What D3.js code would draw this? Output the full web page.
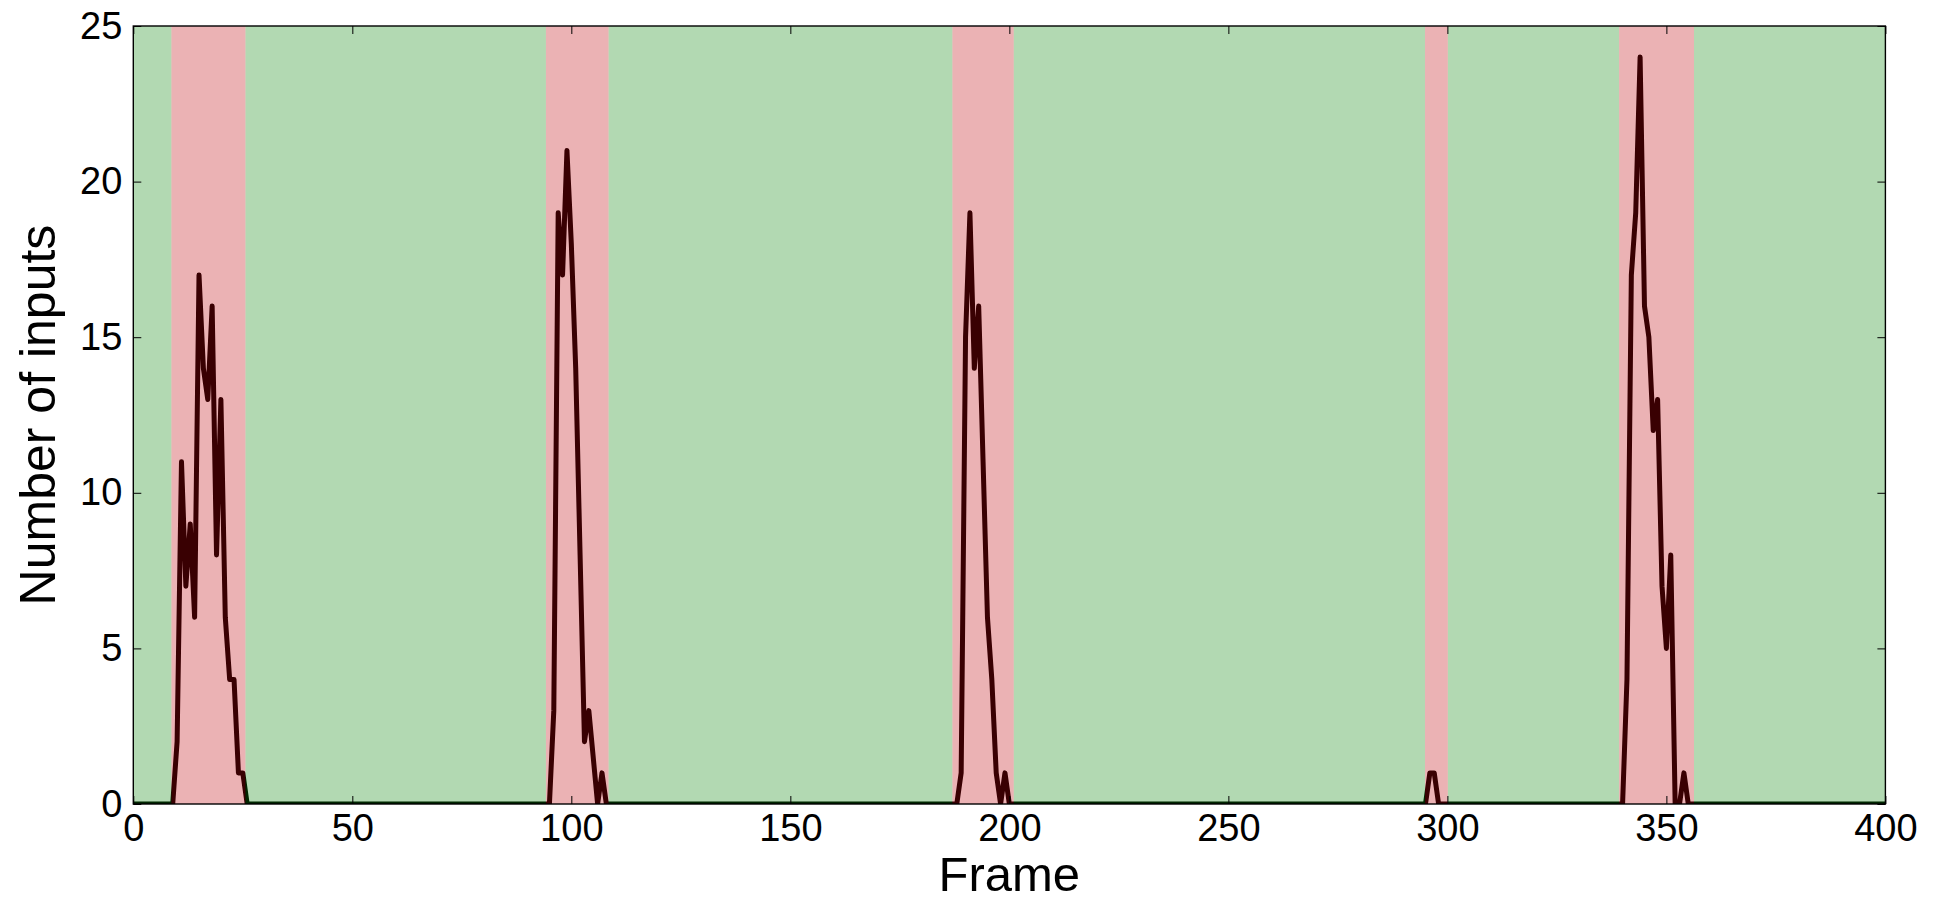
<!DOCTYPE html>
<html>
<head>
<meta charset="utf-8">
<script src="https://cdnjs.cloudflare.com/ajax/libs/d3/7.8.5/d3.min.js"></script>
<style>
  html, body { margin: 0; padding: 0; background: #ffffff; overflow: hidden; }
  svg { display: block; }
  text { font-family: "Liberation Sans", Arial, Helvetica, sans-serif; fill: #000; }
</style>
</head>
<body>
<svg id="chart" width="1936" height="905"></svg>
<script>
// Number of inputs per frame (only frames where the trace changes direction)
const frames = [
  0,
  9, 10, 11, 12, 13, 14, 15, 16, 17, 18, 19, 20, 21, 22, 23, 24, 25, 26,
  95, 96, 97, 98, 99, 100, 101, 102, 103, 104, 106, 107, 108,
  188, 189, 190, 191, 192, 193, 194, 195, 196, 197, 198, 199, 200,
  295, 296, 297, 298,
  340, 341, 342, 343, 344, 345, 346, 347, 348, 349, 350, 351, 352, 353, 354, 355,
  400
];
const inputs = [
  0,
  0, 2, 11, 7, 9, 6, 17, 14, 13, 16, 8, 13, 6, 4, 4, 1, 1, 0,
  0, 3, 19, 17, 21, 18, 14, 8, 2, 3, 0, 1, 0,
  0, 1, 15, 19, 14, 16, 11, 6, 4, 1, 0, 1, 0,
  0, 1, 1, 0,
  0, 4, 17, 19, 24, 16, 15, 12, 13, 7, 5, 8, 0, 0, 1, 0,
  0
];

// Frame ranges flagged as active (red); the remaining frames are idle (green)
const activeStart = [8.7, 94.2, 187.0, 294.9, 339.2];
const activeEnd   = [25.6, 108.5, 201.0, 300.1, 356.3];

const xTicks = [0, 50, 100, 150, 200, 250, 300, 350, 400];
const yTicks = [0, 5, 10, 15, 20, 25];
const xDomain = [0, 400];
const yDomain = [0, 25];

// ---- layout ----
const W = 1936, H = 905;
const margin = { left: 133.3, right: W - 1885.4, top: 26, bottom: H - 804 };
const iw = W - margin.left - margin.right;
const ih = H - margin.top - margin.bottom;

const svg = d3.select("#chart");
const g = svg.append("g").attr("transform", `translate(${margin.left},${margin.top})`);

const x = d3.scaleLinear().domain(xDomain).range([0, iw]);
const y = d3.scaleLinear().domain(yDomain).range([ih, 0]);

svg.append("defs").append("clipPath").attr("id", "plot-clip")
  .append("rect").attr("width", iw).attr("height", ih);

const plot = g.append("g").attr("clip-path", "url(#plot-clip)");

// trace of inputs
const series = frames.map((f, i) => ({ f, v: inputs[i] }));
plot.append("path")
  .datum(series)
  .attr("fill", "none")
  .attr("stroke", "#000")
  .attr("stroke-width", 5)
  .attr("stroke-linejoin", "round")
  .attr("d", d3.line().x(d => x(d.f)).y(d => y(d.v)));

// translucent state bands laid over the trace
const active = activeStart.map((s, i) => ({ s, e: activeEnd[i] }));
const idle = [];
let cursor = xDomain[0];
active.forEach(a => { idle.push({ s: cursor, e: a.s }); cursor = a.e; });
idle.push({ s: cursor, e: xDomain[1] });

plot.selectAll("rect.idle").data(idle).join("rect")
  .attr("class", "idle")
  .attr("x", d => x(d.s)).attr("width", d => x(d.e) - x(d.s))
  .attr("y", 0).attr("height", ih)
  .attr("fill", "rgb(0,128,0)").attr("fill-opacity", 0.3);

plot.selectAll("rect.active").data(active).join("rect")
  .attr("class", "active")
  .attr("x", d => x(d.s)).attr("width", d => x(d.e) - x(d.s))
  .attr("y", 0).attr("height", ih)
  .attr("fill", "rgb(188,0,5)").attr("fill-opacity", 0.3);

// ---- axes (inward ticks on all four sides) ----
const tickLen = 8;
const fontSize = 38;

function styleAxis(sel) {
  sel.select(".domain").remove();
  sel.selectAll(".tick line").attr("stroke", "#000").attr("stroke-width", 1);
  sel.selectAll(".tick text").style("font-size", fontSize + "px")
    .style("font-family", '"Liberation Sans", Arial, sans-serif').attr("fill", "#000");
}

g.append("g").attr("transform", `translate(0,${ih})`)
  .call(d3.axisBottom(x).tickValues(xTicks).tickSizeInner(-tickLen).tickSizeOuter(0).tickPadding(10))
  .call(styleAxis);

g.append("g")
  .call(d3.axisTop(x).tickValues(xTicks).tickSizeInner(-tickLen).tickSizeOuter(0).tickFormat(""))
  .call(styleAxis);

g.append("g")
  .call(d3.axisLeft(y).tickValues(yTicks).tickSizeInner(-tickLen).tickSizeOuter(0).tickPadding(11))
  .call(styleAxis);

g.append("g").attr("transform", `translate(${iw},0)`)
  .call(d3.axisRight(y).tickValues(yTicks).tickSizeInner(-tickLen).tickSizeOuter(0).tickFormat(""))
  .call(styleAxis);

// frame around the plotting area
g.append("rect")
  .attr("width", iw).attr("height", ih)
  .attr("fill", "none").attr("stroke", "#000").attr("stroke-width", 1.4);

// ---- axis titles ----
g.append("text")
  .attr("x", iw / 2).attr("y", 891 - margin.top)
  .attr("text-anchor", "middle")
  .style("font-size", "49px")
  .text("Frame");

svg.append("text")
  .attr("transform", `translate(55,${margin.top + ih / 2}) rotate(-90)`)
  .attr("text-anchor", "middle")
  .style("font-size", "50px")
  .text("Number of inputs");
</script>
</body>
</html>
